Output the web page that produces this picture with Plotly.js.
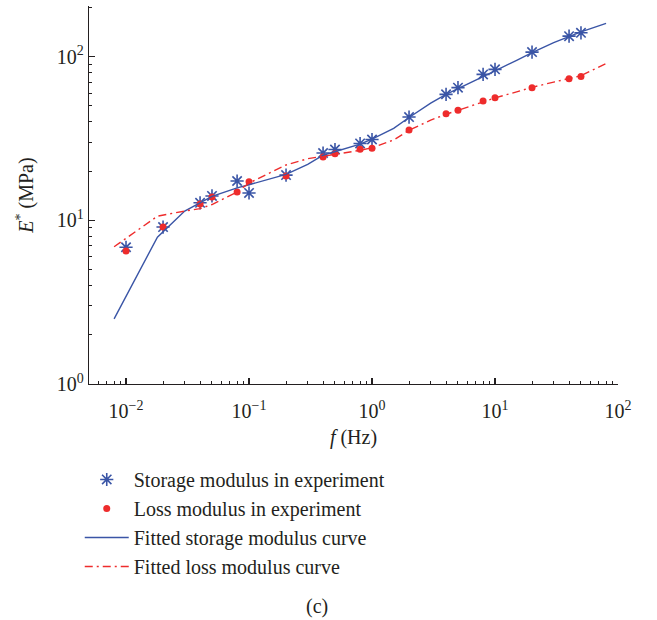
<!DOCTYPE html>
<html>
<head>
<meta charset="utf-8">
<script src="https://cdn.plot.ly/plotly-3.0.1.min.js"></script>
<style>html,body{margin:0;padding:0;background:#fff;}#chart{width:657px;height:620px;}</style>
</head>
<body>
<div id="chart"></div>
<script>
// Experimental data
const freqExp = [0.01,0.02,0.04,0.05,0.08,0.1,0.2,0.4,0.5,0.8,1,2,4,5,8,10,20,40,50];
const storageExp = [6.85,9.1,12.8,14.1,17.4,14.7,18.9,25.8,27.1,29.5,31.2,42.8,58.9,64.7,78,83.7,106.7,133.6,140];
const lossExp = [6.5,9.1,12.6,13.9,14.9,17.2,18.7,24.4,25.5,27.2,27.6,35.7,44.9,47.1,53.6,56.2,64.7,73.4,75.8];

// Fitted curves
const freqFit = [0.008,0.018,0.03,0.04,0.05,0.08,0.1,0.2,0.3,0.4,0.5,0.8,1,1.5,2,3,4,5,8,10,15,20,30,40,50,80];
const storageFit = [2.5,7.9,11.4,12.8,14.0,15.8,16.5,19.1,22.0,25.0,26.3,29.2,31.4,36.5,42.5,52,58.9,64,76,82,95,106,122,133,142,160];
const lossFit = [6.9,10.6,11.4,11.8,12.5,14.9,16.9,21.8,23.8,24.6,25.5,26.8,27.8,31,35.5,41,44.5,47,53,56,61,65,70,73.5,76.5,91];

// Tick labels
const xTickVals = [0.01,0.1,1,10,100];
const xTickText = ['10<sup>\u22122</sup>','10<sup>\u22121</sup>','10<sup>0</sup>','10<sup>1</sup>','10<sup>2</sup>'];
const yTickVals = [1,10,100];
const yTickText = ['10<sup>0</sup>','10<sup>1</sup>','10<sup>2</sup>'];

const names = ['Storage modulus in experiment','Loss modulus in experiment','Fitted storage modulus curve','Fitted loss modulus curve'];

const blue = '#3a55a6';
const red = '#ee2c2c';
const font = 'Liberation Serif, Times New Roman, serif';

function minorVals(lo, hi){
  const v=[];
  for(let e=lo;e<=hi;e++){for(let m=2;m<=9;m++){v.push(m*Math.pow(10,e));}}
  return v;
}

const traces = [
  {x:freqExp, y:storageExp, name:names[0], mode:'markers', type:'scatter',
   marker:{symbol:'asterisk-open', size:11, color:blue, line:{color:blue, width:1.6}}},
  {x:freqExp, y:lossExp, name:names[1], mode:'markers', type:'scatter',
   marker:{symbol:'circle', size:7, color:red}},
  {x:freqFit, y:storageFit, name:names[2], mode:'lines', type:'scatter',
   line:{color:blue, width:1.4}},
  {x:freqFit, y:lossFit, name:names[3], mode:'lines', type:'scatter',
   line:{color:red, width:1.4, dash:'8px,4px,2px,4px'}}
];

const axisCommon = {
  type:'log', showgrid:false, zeroline:false, showline:true, linecolor:'#231f20', linewidth:1.3,
  ticks:'inside', ticklen:6, tickwidth:1.1, tickcolor:'#231f20', tickmode:'array',
  tickfont:{family:font, size:20, color:'#231f20'}
};

const layout = {
  width:657, height:620,
  margin:{l:88.5, r:39, t:6, b:236},
  paper_bgcolor:'#fff', plot_bgcolor:'#fff',
  font:{family:font, color:'#231f20'},
  xaxis:Object.assign({}, axisCommon, {
    range:[Math.log10(0.005), 2], tickvals:xTickVals, ticktext:xTickText, ticklabelstandoff:9,
    minor:{tickmode:'array', tickvals:minorVals(-3,1).filter(v=>v>=0.005), ticks:'inside', ticklen:3, tickwidth:1, tickcolor:'#231f20'},
    title:{text:'<i>f</i> (Hz)', font:{family:font, size:20, color:'#231f20'}, standoff:8}
  }),
  yaxis:Object.assign({}, axisCommon, {
    range:[0, 2.31], tickvals:yTickVals, ticktext:yTickText,
    minor:{tickmode:'array', tickvals:minorVals(0,2).filter(v=>v<=200), ticks:'inside', ticklen:3, tickwidth:1, tickcolor:'#231f20'},
    title:{text:'<i>E</i><sup>*</sup> (MPa)', font:{family:font, size:20, color:'#231f20'}, standoff:17}
  }),
  showlegend:true,
  legend:{x:-0.0175, y:-0.201, xanchor:'left', yanchor:'top', bgcolor:'rgba(0,0,0,0)',
    font:{family:font, size:20, color:'#231f20'}, itemwidth:44, tracegroupgap:0},
  annotations:[{text:'(c)', xref:'paper', yref:'paper', x:0.431, y:-0.588, xanchor:'center', yanchor:'middle',
    showarrow:false, font:{family:font, size:20, color:'#231f20'}}]
};

Plotly.newPlot('chart', traces, layout, {displayModeBar:false, staticPlot:true});
</script>
</body>
</html>
